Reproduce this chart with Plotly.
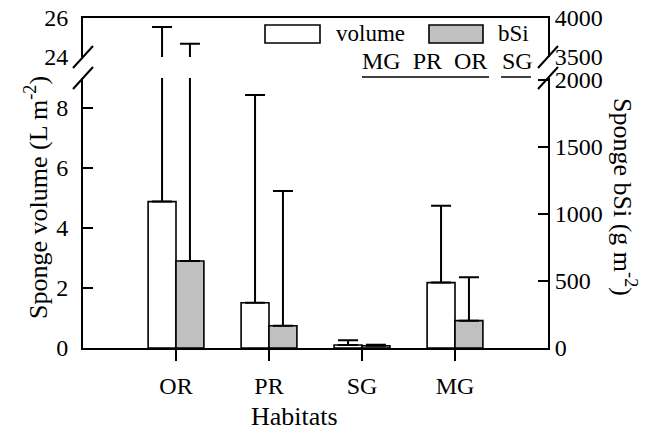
import plotly.graph_objects as go

# ---- data ----
habitats = ["OR", "PR", "SG", "MG"]
volume = [4.88, 1.51, 0.10, 2.18]            # L m-2 (left axis)
volume_upper = [25.54, 8.43, 0.26, 4.74]     # top of error bar
bsi = [649, 166, 17, 204]                    # g m-2 (right axis)
bsi_upper = [3671, 1172, 24, 528]            # top of error bar

left_ticks_low = [0, 2, 4, 6, 8]
left_ticks_high = [24, 26]
right_ticks_low = [0, 500, 1000, 1500, 2000]
right_ticks_high = [3500, 4000]

pos = list(range(1, len(habitats) + 1))
vol_err = [u - v for u, v in zip(volume_upper, volume)]
bsi_err = [u - v for u, v in zip(bsi_upper, bsi)]
zeros = [0] * len(habitats)

FONT = "Liberation Serif"
W, H = 647, 430
ML, MR, MT, MB = 83, 99, 18, 82
PW, PH = W - ML - MR, H - MT - MB

def px(x):
    return (x - ML) / PW

def py(y):
    return (H - MB - y) / PH

low_top = py(78)
high_bot = py(57)

BW = 0.3
line = dict(color="black", width=1.6)

def err(arr):
    return dict(type="data", array=arr, arrayminus=zeros, symmetric=False,
                color="black", thickness=2, width=10)

fig = go.Figure()
for xa, ya_l, ya_r in [("x", "y", "y2"), ("x2", "y3", "y4")]:
    fig.add_trace(go.Bar(x=pos, y=volume, offset=-BW, width=BW, name="volume",
                         marker=dict(color="white", line=line),
                         error_y=err(vol_err), xaxis=xa, yaxis=ya_l,
                         showlegend=False))
    fig.add_trace(go.Bar(x=pos, y=bsi, offset=0, width=BW, name="bSi",
                         marker=dict(color="#c0c0c0", line=line),
                         error_y=err(bsi_err), xaxis=xa, yaxis=ya_r,
                         showlegend=False))

TICK = 24
axline = dict(showline=True, linecolor="black", linewidth=2, showgrid=False,
              zeroline=False, automargin=False,
              tickfont=dict(family=FONT, size=TICK, color="black"))

fig.update_layout(
    width=W, height=H, margin=dict(l=ML, r=MR, t=MT, b=MB),
    paper_bgcolor="white", plot_bgcolor="white",
    font=dict(family=FONT, size=TICK, color="black"),
    barmode="overlay", showlegend=False,
    xaxis=dict(domain=[0, 1], range=[0, 5], anchor="y", tickvals=pos,
               ticktext=habitats, ticks="outside", ticklen=11, tickwidth=2,
               tickcolor="black", ticklabelstandoff=4, **axline),
    xaxis2=dict(domain=[0, 1], range=[0, 5], anchor="y3", side="top",
                showticklabels=False, ticks="", **axline),
    yaxis=dict(domain=[0, low_top], range=[0, 9], anchor="x",
               tickvals=left_ticks_low, ticks="inside", ticklen=10, tickwidth=2,
               tickcolor="black", ticklabelstandoff=8, **axline),
    yaxis2=dict(overlaying="y", side="right", range=[0, 2015], anchor="x",
                tickvals=right_ticks_low, ticks="inside", ticklen=10, tickwidth=2,
                tickcolor="black", ticklabelstandoff=0, **axline),
    yaxis3=dict(domain=[high_bot, 1], range=[24, 26], anchor="x2",
                tickvals=left_ticks_high, ticks="", ticklabelstandoff=8, **axline),
    yaxis4=dict(overlaying="y3", side="right", range=[3500, 4000], anchor="x2",
                tickvals=right_ticks_high, ticks="", ticklabelstandoff=0, **axline),
)

# axis-break slashes
shapes = []
for xa in (0, 1):
    for ya in (low_top, high_bot):
        shapes.append(dict(type="line", xref="paper", yref="paper",
                           xsizemode="pixel", ysizemode="pixel",
                           xanchor=xa, yanchor=ya, x0=-10, x1=10, y0=-11, y1=11,
                           line=dict(color="black", width=2)))
# legend keys
shapes.append(dict(type="rect", xref="paper", yref="paper",
                   x0=px(265), x1=px(320), y0=py(43), y1=py(25),
                   fillcolor="white", line=line))
shapes.append(dict(type="rect", xref="paper", yref="paper",
                   x0=px(429), x1=px(483), y0=py(43), y1=py(25),
                   fillcolor="#c0c0c0", line=line))
# grouping underlines
for a, b in [(362, 489), (501, 531)]:
    shapes.append(dict(type="line", xref="paper", yref="paper",
                       x0=px(a), x1=px(b), y0=py(77), y1=py(77),
                       line=dict(color="black", width=1.5)))
fig.update_layout(shapes=shapes)

ann = [
    dict(text="volume", x=px(334), y=py(34), xanchor="left", yanchor="middle", size=23),
    dict(text="bSi", x=px(496), y=py(34), xanchor="left", yanchor="middle", size=23),
    dict(text="MG&nbsp; PR&nbsp; OR", x=px(489), y=py(61), xanchor="right", yanchor="middle", size=24),
    dict(text="SG", x=px(500), y=py(61), xanchor="left", yanchor="middle", size=24),
    dict(text="Habitats", x=px(294), y=py(416), xanchor="center", yanchor="middle", size=26),
    dict(text="Sponge volume (L m<sup>-2</sup>)", x=px(36), y=py(198),
         xanchor="center", yanchor="middle", textangle=-90, size=26),
    dict(text="Sponge bSi (g m<sup>-2</sup>)", x=px(625), y=py(197),
         xanchor="center", yanchor="middle", textangle=90, size=26),
]
for a in ann:
    s = a.pop("size")
    a.update(xref="paper", yref="paper", showarrow=False,
             font=dict(family=FONT, size=s, color="black"))
fig.update_layout(annotations=ann)

fig.write_html("out.html", config={"displayModeBar": False},
               post_script="document.body.style.margin='0';document.body.style.overflow='hidden';")
